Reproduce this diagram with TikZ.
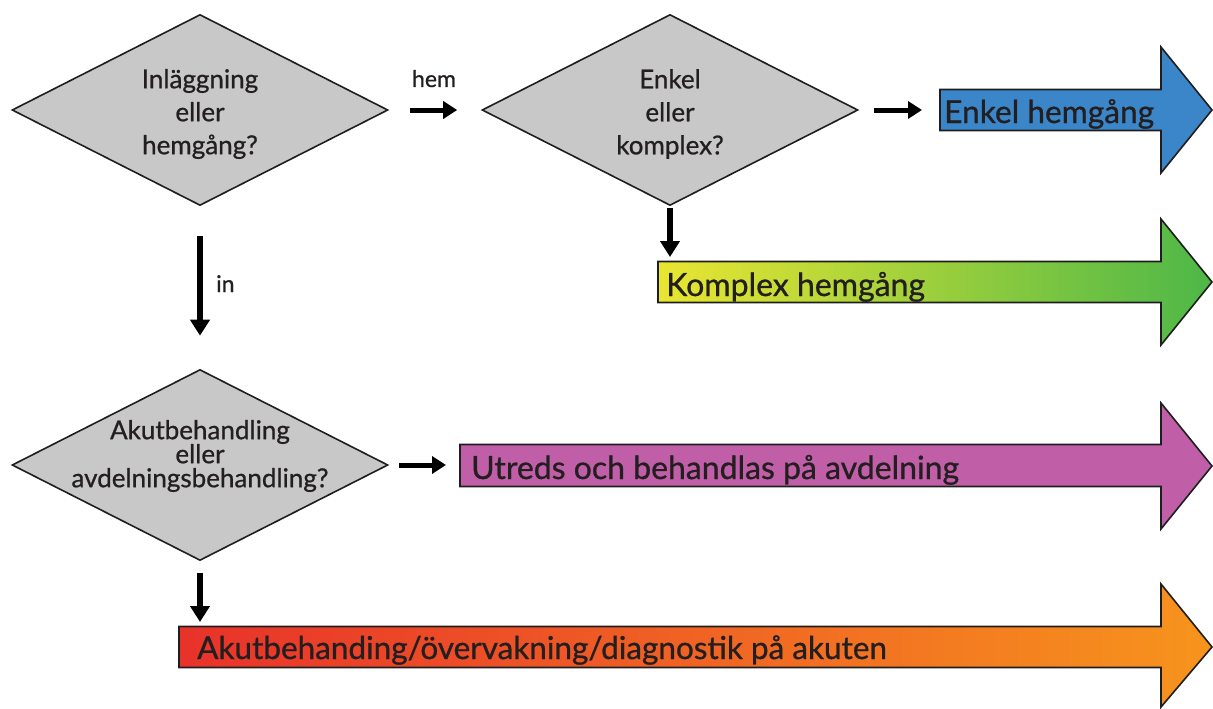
\documentclass[tikz,border=0pt]{standalone}
\usepackage{fontspec}
\setmainfont{Lato}[FakeBold=0.8]
\usetikzlibrary{shapes.geometric,arrows.meta}

\definecolor{ink}{HTML}{231F20}
\definecolor{edge}{HTML}{1E1E1E}
\definecolor{diagray}{HTML}{C8C8C8}
\definecolor{blueA}{HTML}{3A86C8}
\definecolor{purpleA}{HTML}{C05FA8}
\definecolor{yellowA}{HTML}{E9E631}
\definecolor{greenM}{HTML}{7EC242}
\definecolor{greenA}{HTML}{4DB748}
\definecolor{redA}{HTML}{E8322A}
\definecolor{redM}{HTML}{F06526}
\definecolor{orangeA}{HTML}{F7941D}

\tikzset{
  decision/.style={diamond, draw=edge, fill=diagray, line width=1.6pt,
    minimum width=376pt, minimum height=191pt, inner sep=0pt},
  qtext/.style={align=center, text=ink, inner sep=0pt,
    font=\fontsize{26}{33}\selectfont},
  conn/.style={line width=5.5pt, draw=black,
    -{Triangle[length=16pt, width=19pt]}},
  shortconn/.style={line width=5pt, draw=black,
    -{Triangle[length=14pt, width=17pt]}},
  smalllbl/.style={text=ink, inner sep=0pt, font=\fontsize{23}{28}\selectfont},
  bigarr/.style={draw=edge, line width=1.6pt, line join=miter},
  arrlbl/.style={anchor=base west, text=ink, inner sep=0pt,
    font=\fontsize{31.7}{36}\selectfont},
}

\begin{document}
\begin{tikzpicture}[x=1pt, y=-1pt]
  \useasboundingbox (0,0) rectangle (1213,709);

  % decision diamonds
  \node[decision] (d1) at (200,110) {};
  \node[decision] (d2) at (670,110) {};
  \node[decision] (d3) at (200,465) {};

  \node[qtext] (d1t) at (200,114) {Inläggning\\eller\\hemgång?};
  \node[qtext] (d2t) at (670,114) {Enkel\\eller\\komplex?};
  \node[qtext, font=\fontsize{26}{24}\selectfont] (d3t) at (200,456)
    {Akutbehandling\\eller\\avdelningsbehandling?};

  % outcome arrows
  \path[bigarr, fill=blueA]
    (940,89.5) -- (1161,89.5) -- (1161,47) -- (1212,110) -- (1161,173)
    -- (1161,130.5) -- (940,130.5) -- cycle;
  \shade[bigarr, left color=yellowA, middle color=greenM, right color=greenA]
    (658,261.5) -- (1161,261.5) -- (1161,219) -- (1212,282) -- (1161,345)
    -- (1161,302.5) -- (658,302.5) -- cycle;
  \path[bigarr, fill=purpleA]
    (460,444.5) -- (1161,444.5) -- (1161,403) -- (1212,466) -- (1161,529)
    -- (1161,486.5) -- (460,486.5) -- cycle;
  \shade[bigarr, left color=redA, middle color=redM, right color=orangeA]
    (179,626.5) -- (1161,626.5) -- (1161,584) -- (1212,647) -- (1161,707)
    -- (1161,667.5) -- (179,667.5) -- cycle;

  \coordinate (blueTail) at (940,110);
  \coordinate (greenTop) at (670,261);
  \coordinate (purpleTail) at (460,465);
  \coordinate (redTop) at (200,627);

  \node[arrlbl] (enkel) at (944,123) {Enkel hemgång};
  \node[arrlbl, font=\fontsize{32}{36}\selectfont] (komplex) at (666,296) {Komplex hemgång};
  \node[arrlbl, font=\fontsize{32}{36}\selectfont] (utreds) at (471,479) {Utreds och behandlas på avdelning};
  \node[arrlbl, font=\fontsize{31.5}{36}\selectfont] (akut) at (197,659) {Akutbehanding/övervakning/diagnostik på akuten};

  % connectors
  \draw[shortconn, shorten <=21pt, shorten >=24pt] (d1.east) -- (d2.west);
  \node[smalllbl, anchor=base] (hem) at (434,87) {hem};
  \draw[shortconn, shorten <=15pt, shorten >=18pt] (d2.east) -- (blueTail);
  \draw[conn, shorten <=2pt, shorten >=4pt] (d2.south) -- (greenTop);
  \draw[conn, shorten <=30pt, shorten >=33pt] (d1.south) -- (d3.north);
  \node[smalllbl, anchor=base west] (in) at (216,292) {in};
  \draw[shortconn, shorten <=10pt, shorten >=14pt] (d3.east) -- (purpleTail);
  \draw[conn, shorten <=12pt, shorten >=5pt] (d3.south) -- (redTop);
\end{tikzpicture}
\end{document}
